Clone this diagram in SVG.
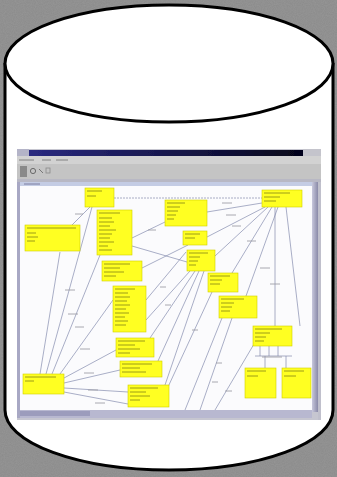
<svg xmlns="http://www.w3.org/2000/svg" width="337" height="477" viewBox="0 0 337 477">
  <defs>
    <filter id="noise" x="0" y="0" width="100%" height="100%">
      <feTurbulence type="fractalNoise" baseFrequency="0.9" numOctaves="2" seed="3" result="n"/>
      <feColorMatrix in="n" type="matrix" values="0 0 0 0 0.5  0 0 0 0 0.5  0 0 0 0 0.5  0 0 0 0.25 0"/>
    </filter>
    <filter id="soft" x="-2%" y="-2%" width="104%" height="104%">
      <feGaussianBlur stdDeviation="0.55"/>
    </filter>
    <linearGradient id="title" x1="0" y1="0" x2="1" y2="0">
      <stop offset="0" stop-color="#2a2a80"/>
      <stop offset="1" stop-color="#05051a"/>
    </linearGradient>
    <linearGradient id="vscroll" x1="0" y1="0" x2="1" y2="0">
      <stop offset="0" stop-color="#c8c8dc"/>
      <stop offset="1" stop-color="#8a8aa8"/>
    </linearGradient>
    <style>
      .box { fill: #ffff22; stroke: #d0d000; stroke-width: 0.6; }
      .txt { stroke: #8a8a18; stroke-width: 1; opacity: 0.85; }
      .con { fill: none; stroke: #7c84a8; stroke-width: 0.65; }
      .lbl { stroke: #9a9aa2; stroke-width: 1; opacity: 0.85; }
      .cyl { fill: #ffffff; stroke: #000000; stroke-width: 3; }
    </style>
  </defs>

  <!-- background -->
  <rect x="0" y="0" width="337" height="477" fill="#8a8a8a"/>
  <rect x="0" y="0" width="337" height="477" filter="url(#noise)"/>

  <!-- cylinder -->
  <g id="cylinder">
    <path class="cyl" d="M5,63 L5,410 A164,60 0 0 0 333,410 L333,63"/>
    <ellipse class="cyl" cx="169" cy="63.5" rx="164" ry="58.5"/>
  </g>

  <!-- screenshot -->
  <g id="screenshot" filter="url(#soft)">
    <rect x="17" y="149" width="304" height="271" fill="#c6c6d0"/>
    <rect x="17" y="149" width="12" height="7" fill="#b4b4c8"/>
    <rect x="29" y="150" width="274" height="6" fill="url(#title)"/>
    <rect x="303" y="149" width="18" height="7" fill="#c4c4cc"/>
    <rect x="17" y="156" width="304" height="8" fill="#d2d2d2"/>
    <g stroke="#555" stroke-width="0.9" opacity="0.7">
      <line x1="19" y1="160" x2="34" y2="160"/>
      <line x1="42" y1="160" x2="51" y2="160"/>
      <line x1="56" y1="160" x2="68" y2="160"/>
    </g>
    <rect x="17" y="164" width="304" height="15" fill="#c4c4c4"/>
    <rect x="20" y="166" width="7" height="11" fill="#8a8a8a"/>
    <circle cx="33" cy="171" r="2.6" fill="none" stroke="#6a6a6a" stroke-width="1"/>
    <line x1="39" y1="169" x2="43" y2="173" stroke="#777" stroke-width="1"/>
    <rect x="46" y="168" width="4" height="5" fill="none" stroke="#8a8a8a" stroke-width="0.8"/>
    <rect x="17" y="179" width="304" height="3" fill="#b8b8c4"/>
    <rect x="20" y="182" width="298" height="4" fill="#c4cce4"/>
    <line x1="24" y1="184" x2="40" y2="184" stroke="#6a6a90" stroke-width="0.8"/>
    <rect x="20" y="186" width="292" height="224" fill="#fbfbfd"/>
    <rect x="17" y="182" width="3" height="236" fill="#a8a8c4"/>
    <rect x="312" y="182" width="6" height="230" fill="url(#vscroll)"/>
    <rect x="20" y="410" width="292" height="8" fill="#b8b8d0"/>
    <rect x="20" y="411" width="70" height="5" fill="#9c9cbc"/>
    <rect x="318" y="182" width="3" height="238" fill="#c0c0cc"/>

    <!-- connectors -->
    <g id="connectors" class="con">
      <line x1="114" y1="198" x2="262" y2="198" stroke-dasharray="2 1"/>
      <line x1="72" y1="225" x2="90" y2="207"/>
      <line x1="92" y1="207" x2="46" y2="374"/>
      <line x1="100" y1="255" x2="52" y2="374"/>
      <line x1="60" y1="252" x2="40" y2="374"/>
      <line x1="132" y1="238" x2="165" y2="222"/>
      <line x1="132" y1="246" x2="187" y2="262"/>
      <line x1="142" y1="268" x2="188" y2="245"/>
      <line x1="207" y1="212" x2="262" y2="203"/>
      <line x1="207" y1="237" x2="265" y2="207"/>
      <line x1="215" y1="256" x2="268" y2="207"/>
      <line x1="232" y1="273" x2="272" y2="207"/>
      <line x1="246" y1="296" x2="278" y2="207"/>
      <line x1="275" y1="207" x2="275" y2="326"/>
      <line x1="286" y1="207" x2="300" y2="326"/>
      <line x1="195" y1="271" x2="150" y2="338"/>
      <line x1="199" y1="271" x2="158" y2="361"/>
      <line x1="204" y1="271" x2="165" y2="385"/>
      <line x1="212" y1="292" x2="168" y2="387"/>
      <line x1="222" y1="318" x2="185" y2="410"/>
      <line x1="232" y1="318" x2="200" y2="410"/>
      <line x1="254" y1="344" x2="215" y2="410"/>
      <line x1="146" y1="300" x2="186" y2="252"/>
      <line x1="146" y1="320" x2="190" y2="271"/>
      <line x1="113" y1="300" x2="60" y2="374"/>
      <line x1="64" y1="378" x2="116" y2="350"/>
      <line x1="64" y1="383" x2="120" y2="370"/>
      <line x1="64" y1="388" x2="128" y2="392"/>
      <line x1="64" y1="392" x2="128" y2="404"/>
      <line x1="260" y1="346" x2="260" y2="356"/>
      <line x1="269" y1="346" x2="269" y2="356"/>
      <line x1="278" y1="346" x2="278" y2="356"/>
      <line x1="255" y1="356" x2="292" y2="356"/>
      <line x1="265" y1="356" x2="265" y2="368"/>
      <line x1="286" y1="356" x2="286" y2="368"/>
    </g>

    <!-- connector labels (illegible smudges) -->
    <g class="lbl">
      <line x1="75" y1="214" x2="83" y2="214"/>
      <line x1="148" y1="230" x2="156" y2="230"/>
      <line x1="222" y1="203" x2="232" y2="203"/>
      <line x1="226" y1="215" x2="236" y2="215"/>
      <line x1="232" y1="226" x2="241" y2="226"/>
      <line x1="247" y1="241" x2="256" y2="241"/>
      <line x1="260" y1="268" x2="270" y2="268"/>
      <line x1="270" y1="284" x2="280" y2="284"/>
      <line x1="65" y1="290" x2="75" y2="290"/>
      <line x1="68" y1="314" x2="78" y2="314"/>
      <line x1="75" y1="327" x2="84" y2="327"/>
      <line x1="80" y1="349" x2="90" y2="349"/>
      <line x1="84" y1="373" x2="94" y2="373"/>
      <line x1="88" y1="390" x2="98" y2="390"/>
      <line x1="95" y1="403" x2="105" y2="403"/>
      <line x1="160" y1="287" x2="166" y2="287"/>
      <line x1="165" y1="305" x2="171" y2="305"/>
      <line x1="192" y1="330" x2="198" y2="330"/>
      <line x1="216" y1="363" x2="222" y2="363"/>
      <line x1="212" y1="382" x2="218" y2="382"/>
      <line x1="225" y1="391" x2="232" y2="391"/>
      <line x1="262" y1="357" x2="282" y2="357"/>
    </g>

    <!-- nodes -->
    <g id="nodeA"><rect class="box" x="85" y="188" width="29" height="19"/>
      <line class="txt" x1="87" y1="191" x2="102" y2="191"/><line class="txt" x1="87" y1="196" x2="96" y2="196"/></g>
    <g id="nodeB"><rect class="box" x="97" y="210" width="35" height="45"/>
      <g class="txt"><line x1="99" y1="213" x2="120" y2="213"/><line x1="99" y1="218" x2="112" y2="218"/><line x1="99" y1="222" x2="114" y2="222"/><line x1="99" y1="226" x2="110" y2="226"/><line x1="99" y1="230" x2="116" y2="230"/><line x1="99" y1="234" x2="112" y2="234"/><line x1="99" y1="238" x2="110" y2="238"/><line x1="99" y1="242" x2="114" y2="242"/><line x1="99" y1="246" x2="108" y2="246"/><line x1="99" y1="250" x2="112" y2="250"/></g></g>
    <g id="nodeC"><rect class="box" x="25" y="225" width="55" height="26"/>
      <g class="txt"><line x1="27" y1="228" x2="76" y2="228"/><line x1="27" y1="233" x2="36" y2="233"/><line x1="27" y1="237" x2="38" y2="237"/><line x1="27" y1="241" x2="35" y2="241"/></g></g>
    <g id="nodeD"><rect class="box" x="165" y="200" width="42" height="26"/>
      <g class="txt"><line x1="167" y1="203" x2="185" y2="203"/><line x1="167" y1="207" x2="180" y2="207"/><line x1="167" y1="211" x2="178" y2="211"/><line x1="167" y1="215" x2="176" y2="215"/><line x1="167" y1="219" x2="174" y2="219"/></g></g>
    <g id="nodeE"><rect class="box" x="262" y="190" width="40" height="17"/>
      <g class="txt"><line x1="264" y1="193" x2="290" y2="193"/><line x1="264" y1="197" x2="280" y2="197"/><line x1="264" y1="201" x2="276" y2="201"/></g></g>
    <g id="nodeF"><rect class="box" x="183" y="231" width="24" height="14"/>
      <g class="txt"><line x1="185" y1="234" x2="200" y2="234"/><line x1="185" y1="238" x2="195" y2="238"/></g></g>
    <g id="nodeG"><rect class="box" x="187" y="250" width="28" height="21"/>
      <g class="txt"><line x1="189" y1="253" x2="208" y2="253"/><line x1="189" y1="257" x2="200" y2="257"/><line x1="189" y1="261" x2="198" y2="261"/><line x1="189" y1="265" x2="196" y2="265"/></g></g>
    <g id="nodeH"><rect class="box" x="102" y="261" width="40" height="20"/>
      <g class="txt"><line x1="104" y1="264" x2="130" y2="264"/><line x1="104" y1="268" x2="120" y2="268"/><line x1="104" y1="272" x2="124" y2="272"/><line x1="104" y1="276" x2="116" y2="276"/></g></g>
    <g id="nodeI"><rect class="box" x="113" y="286" width="33" height="46"/>
      <g class="txt"><line x1="115" y1="289" x2="135" y2="289"/><line x1="115" y1="293" x2="128" y2="293"/><line x1="115" y1="297" x2="130" y2="297"/><line x1="115" y1="301" x2="127" y2="301"/><line x1="115" y1="305" x2="130" y2="305"/><line x1="115" y1="309" x2="126" y2="309"/><line x1="115" y1="313" x2="129" y2="313"/><line x1="115" y1="317" x2="125" y2="317"/><line x1="115" y1="321" x2="128" y2="321"/><line x1="115" y1="325" x2="126" y2="325"/></g></g>
    <g id="nodeJ"><rect class="box" x="208" y="273" width="30" height="19"/>
      <g class="txt"><line x1="210" y1="276" x2="230" y2="276"/><line x1="210" y1="280" x2="222" y2="280"/><line x1="210" y1="284" x2="220" y2="284"/></g></g>
    <g id="nodeK"><rect class="box" x="219" y="296" width="38" height="22"/>
      <g class="txt"><line x1="221" y1="299" x2="244" y2="299"/><line x1="221" y1="303" x2="234" y2="303"/><line x1="221" y1="307" x2="232" y2="307"/><line x1="221" y1="311" x2="230" y2="311"/></g></g>
    <g id="nodeL"><rect class="box" x="116" y="338" width="38" height="19"/>
      <g class="txt"><line x1="118" y1="341" x2="145" y2="341"/><line x1="118" y1="345" x2="135" y2="345"/><line x1="118" y1="349" x2="140" y2="349"/><line x1="118" y1="353" x2="130" y2="353"/></g></g>
    <g id="nodeM"><rect class="box" x="253" y="326" width="39" height="20"/>
      <g class="txt"><line x1="255" y1="329" x2="282" y2="329"/><line x1="255" y1="333" x2="270" y2="333"/><line x1="255" y1="337" x2="266" y2="337"/><line x1="255" y1="341" x2="264" y2="341"/></g></g>
    <g id="nodeN"><rect class="box" x="120" y="361" width="42" height="16"/>
      <g class="txt"><line x1="122" y1="364" x2="152" y2="364"/><line x1="122" y1="368" x2="140" y2="368"/><line x1="122" y1="372" x2="146" y2="372"/></g></g>
    <g id="nodeO"><rect class="box" x="23" y="374" width="41" height="20"/>
      <g class="txt"><line x1="25" y1="377" x2="56" y2="377"/><line x1="25" y1="381" x2="34" y2="381"/></g></g>
    <g id="nodeP"><rect class="box" x="128" y="385" width="41" height="22"/>
      <g class="txt"><line x1="130" y1="388" x2="158" y2="388"/><line x1="130" y1="392" x2="146" y2="392"/><line x1="130" y1="396" x2="150" y2="396"/><line x1="130" y1="400" x2="140" y2="400"/></g></g>
    <g id="nodeQ"><rect class="box" x="245" y="368" width="31" height="30"/>
      <g class="txt"><line x1="247" y1="371" x2="266" y2="371"/><line x1="247" y1="376" x2="258" y2="376"/></g></g>
    <g id="nodeR"><rect class="box" x="282" y="368" width="29" height="30"/>
      <g class="txt"><line x1="284" y1="371" x2="304" y2="371"/><line x1="284" y1="376" x2="296" y2="376"/></g></g>
  </g>
</svg>
